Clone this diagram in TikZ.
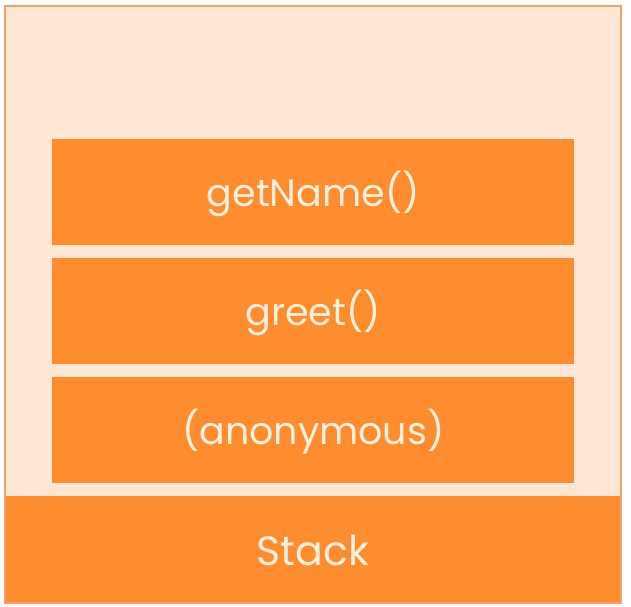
\documentclass[tikz,border=0pt]{standalone}
\usepackage{fontspec}
\setmainfont{Poppins}
\definecolor{peach}{HTML}{FFE6D5}
\definecolor{orng}{HTML}{FF8C2F}
\definecolor{edge}{HTML}{F3A26F}
\definecolor{txt}{HTML}{FFF0DC}
\begin{document}
\begin{tikzpicture}[x=1pt,y=-1pt,
  frame/.style={fill=orng,draw=none,text=txt,inner sep=0pt,anchor=north west,
    minimum width=522pt,minimum height=106pt,text height=28pt,text depth=0pt,
    font=\fontsize{38}{44}\selectfont},
  band/.style={frame,minimum width=616pt,minimum height=107pt,text height=31pt,
    font=\fontsize{41}{48}\selectfont}]
\useasboundingbox (0,0) rectangle (631,606);
\fill[white] (0,0) rectangle (631,606);
\draw[fill=peach,draw=edge,line width=1.5pt] (5,6) rectangle (621,603);
\node[band] (stack) at (5,496) {Stack};
\node[frame] (f1) at (52,139) {getName()};
\node[frame] (f2) at (52,258) {greet()};
\node[frame] (f3) at (52,377) {(anonymous)};
\draw[edge,line width=1.5pt] (5,496) -- (5,603) -- (621,603) -- (621,496);
\end{tikzpicture}
\end{document}
